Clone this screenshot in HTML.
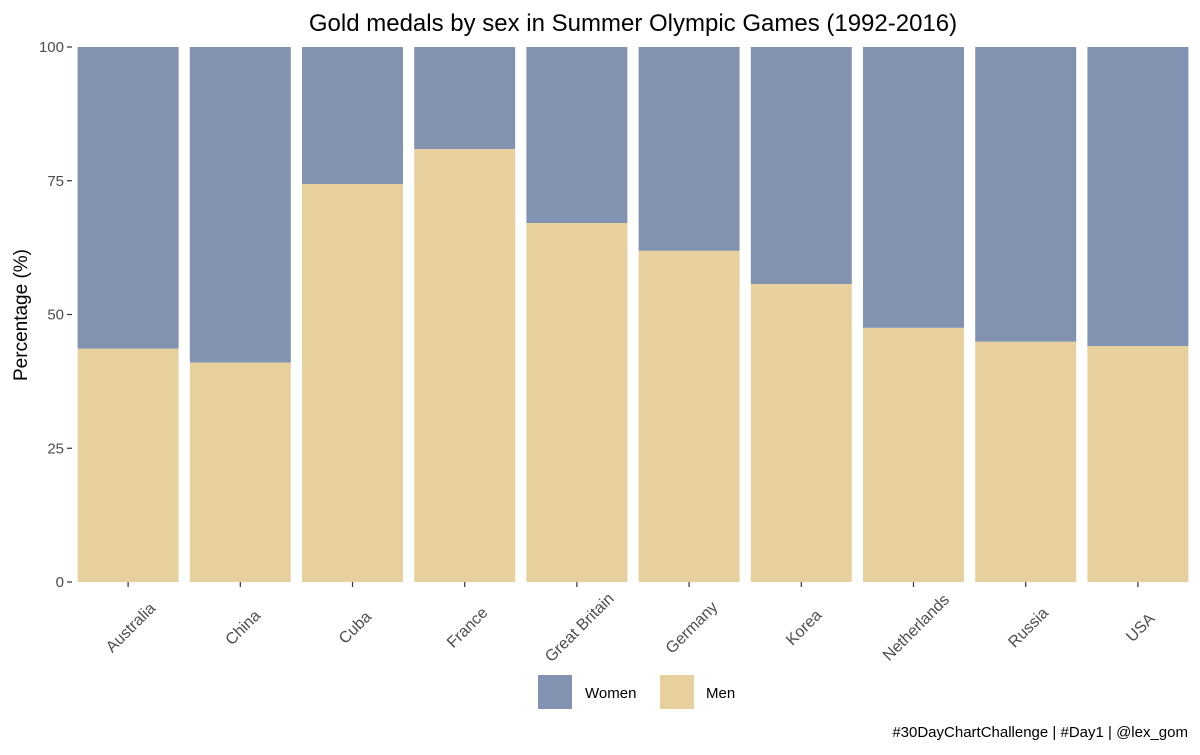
<!DOCTYPE html>
<html><head><meta charset="utf-8"><style>
body{margin:0;background:#fff;font-family:"Liberation Sans",Arial,sans-serif}
</style></head><body>
<svg id="chart" width="1200" height="750" xmlns="http://www.w3.org/2000/svg">
<rect width="1200" height="750" fill="#fff"/>
<text x="633" y="31" text-anchor="middle" font-size="24" fill="#000">Gold medals by sex in Summer Olympic Games (1992-2016)</text>
<text transform="translate(27,315) rotate(-90)" text-anchor="middle" font-size="19" fill="#000">Percentage (%)</text>
<g id="bars"></g><g id="axes"></g>
<g>
<rect x="538" y="675" width="34" height="34" fill="#8193b0"/>
<text x="585" y="698" font-size="15" fill="#000">Women</text>
<rect x="660" y="675" width="34" height="34" fill="#e8cf9e"/>
<text x="706" y="698" font-size="15" fill="#000">Men</text>
</g>
<text x="1188" y="737" text-anchor="end" font-size="15" fill="#000">#30DayChartChallenge | #Day1 | @lex_gom</text>
</svg>
<script>
const categories=["Australia","China","Cuba","France","Great Britain","Germany","Korea","Netherlands","Russia","USA"];
const menValues=[43.6,41.0,74.4,80.9,67.1,61.9,55.7,47.5,44.9,44.1];
const yTicks=[0,25,50,75,100];
const NS="http://www.w3.org/2000/svg";
const x0=72,x1=1194,y0=582,y1=47;
const band=(x1-x0)/categories.length;
const xC=i=>x0+band*(i+0.5);
const yS=v=>y0-(v/100)*(y0-y1);
const bars=document.getElementById('bars'),axes=document.getElementById('axes');
function mk(t,a,p){const e=document.createElementNS(NS,t);for(const k in a)e.setAttribute(k,a[k]);p.appendChild(e);return e;}
categories.forEach((c,i)=>{
 const w=band*0.9,x=xC(i)-w/2,m=menValues[i];
 const r1=mk('rect',{x:x,y:yS(100),width:w,height:yS(m)-yS(100),fill:'#8193b0'},bars);
 
 
 const r2=mk('rect',{x:x,y:yS(m),width:w,height:yS(0)-yS(m),fill:'#e8cf9e'},bars);
 
 
 const tk=mk('line',{x1:xC(i),x2:xC(i),y1:y0,y2:y0+5,stroke:'#333','stroke-width':1.2},axes);
 
 
 const t=mk('text',{transform:`translate(${xC(i)+3},${y0+46}) rotate(-45)`,'text-anchor':'middle','dominant-baseline':'central','font-size':16,fill:'#4d4d4d'},axes);
 t.textContent=c;
 
 
});
yTicks.forEach(v=>{
 const tk=mk('line',{x1:x0-5,x2:x0,y1:yS(v),y2:yS(v),stroke:'#333','stroke-width':1.2},axes);
 
 
 const t=mk('text',{x:x0-8,y:yS(v)+5,'text-anchor':'end','font-size':15,fill:'#4d4d4d'},axes);
 t.textContent=v;
 
 
});
</script>
</body></html>
